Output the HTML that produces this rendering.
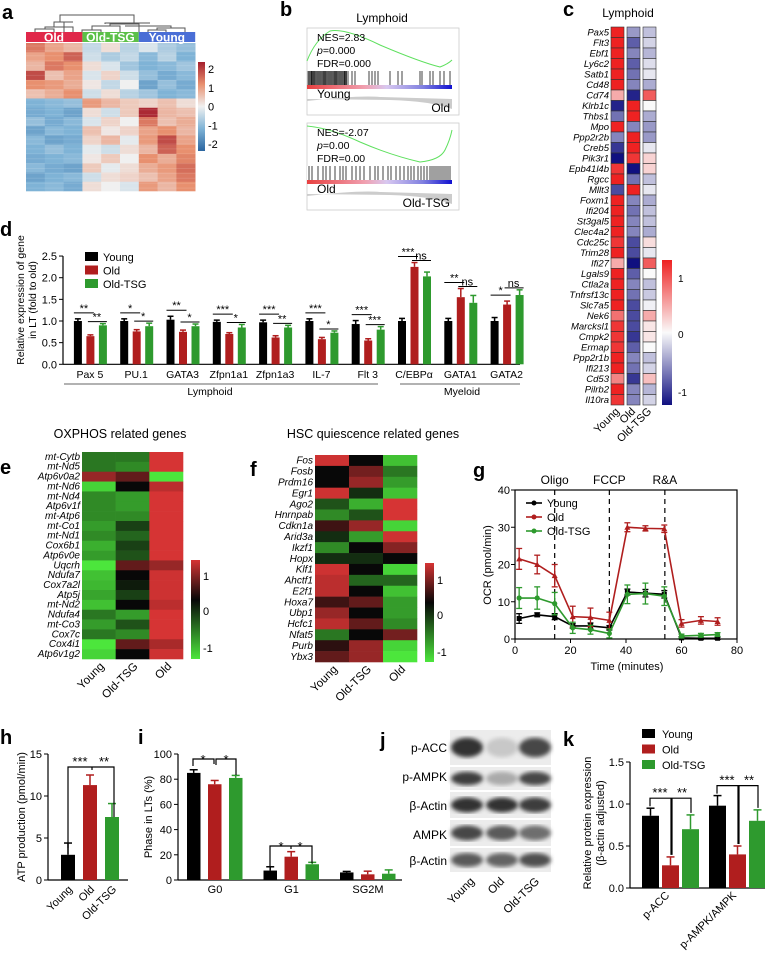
<!DOCTYPE html>
<html><head><meta charset="utf-8"><style>
html,body{margin:0;padding:0;background:#fff;}
svg{display:block;font-family:"Liberation Sans",sans-serif;}
</style></head><body>
<svg id="fig" width="765" height="958" viewBox="0 0 765 958"></svg>
<script>
// ---------- DATA ----------
const aRows = [
[1.2,0.8,0.6,-0.4,0.2,-0.5,-0.2,-0.6,-0.8],
[0.8,1.0,1.4,-0.3,-0.6,-0.4,-0.9,-0.5,-1.0],
[0.6,1.2,1.0,0.2,-0.2,-0.7,-1.0,-0.9,-0.7],
[1.6,0.5,0.8,-0.2,0.3,-0.3,-0.8,-1.1,-0.9],
[1.0,0.9,0.7,0.1,-0.4,0.0,-1.2,-0.8,-1.1],
[0.5,0.7,1.0,-0.3,0.2,-0.5,-0.7,-1.0,-0.9],
[-1.0,-0.9,-0.8,0.9,0.6,0.4,0.3,0.5,0.2],
[-1.1,-1.0,-1.2,0.2,-0.3,0.4,1.9,0.6,0.5],
[-0.8,-1.1,-0.9,-0.2,0.3,0.0,1.2,0.5,0.7],
[-1.2,-0.9,-1.0,0.5,0.1,0.3,0.8,1.0,0.6],
[-0.9,-1.2,-1.1,0.3,0.6,-0.1,0.9,1.6,0.8],
[-1.0,-0.8,-1.0,-0.1,-0.3,0.2,0.6,1.4,1.0],
[-1.1,-1.0,-0.9,0.1,0.4,0.0,1.0,0.7,1.1],
[-0.9,-1.1,-1.2,0.4,-0.1,0.2,0.7,0.9,1.3],
[-1.2,-1.0,-0.9,-0.3,0.2,0.3,0.5,0.8,1.2],
[-1.0,-0.9,-1.1,0.2,0.0,-0.2,0.9,0.6,1.0]];
const cGenes = ["Pax5","Flt3","Ebf1","Ly6c2","Satb1","Cd48","Cd74","Klrb1c","Thbs1","Mpo","Ppp2r2b","Creb5","Pik3r1","Epb41l4b","Rgcc","Mllt3","Foxm1","Ifi204","St3gal5","Clec4a2","Cdc25c","Trim28","Ifi27","Lgals9","Ctla2a","Tnfrsf13c","Slc7a5","Nek6","Marcksl1","Cmpk2","Ermap","Ppp2r1b","Ifi213","Cd53","Pilrb2","Il10ra"];
const cYoung = [1.1,1.2,1.2,1.2,1.1,1.2,0.4,-1.1,-0.7,1.2,-0.6,-1.0,-1.2,1.0,1.2,-0.9,1.2,1.2,1.2,1.2,1.0,1.1,0.4,1.1,1.2,1.2,1.1,0.7,1.0,1.0,1.0,1.1,1.2,0.6,1.2,1.0];
const cOld = [-0.5,-0.8,-0.6,-0.8,-0.7,-0.6,-1.1,1.1,1.2,-0.6,1.2,1.2,1.0,-1.2,-0.7,1.2,-0.6,-0.7,-0.6,-0.6,-0.9,-0.9,-1.2,-0.8,-0.6,-0.7,-0.9,-0.9,-0.9,-1.0,-0.8,-0.6,-0.7,-1.0,-0.6,-0.6];
const cTSG = [-0.3,-0.2,-0.35,-0.15,-0.1,-0.4,0.8,0,-0.4,-0.5,-0.5,-0.1,0.2,0.2,-0.3,-0.1,-0.4,-0.3,-0.3,-0.4,0.15,-0.1,0.8,0,-0.3,-0.25,-0.05,0.4,0.1,0.1,0,-0.3,-0.2,0.3,-0.35,-0.2];
const dGenes = ["Pax 5","PU.1","GATA3","Zfpn1a1","Zfpn1a3","IL-7","Flt 3","C/EBPα","GATA1","GATA2"];
const dYoung = [1.0,1.0,1.03,0.98,0.97,1.0,0.93,1.0,1.0,1.0];
const dYoungErr = [0.05,0.05,0.08,0.04,0.05,0.05,0.08,0.06,0.06,0.08];
const dOld = [0.65,0.76,0.75,0.7,0.62,0.58,0.55,2.25,1.55,1.38];
const dOldErr = [0.03,0.04,0.04,0.03,0.04,0.04,0.04,0.1,0.2,0.08];
const dTSG = [0.9,0.88,0.88,0.85,0.85,0.73,0.8,2.03,1.42,1.6];
const dTSGErr = [0.04,0.07,0.05,0.07,0.05,0.04,0.07,0.1,0.17,0.12];
const dSig1 = ["**","*","**","***","***","***","***","***","**","*"];
const dSig2 = ["**","*","*","*","**","*","***","ns","ns","ns"];
const dTicks = [0,0.5,1.0,1.5,2.0,2.5];
const eGenes = ["mt-Cytb","mt-Nd5","Atp6v0a2","mt-Nd6","mt-Nd4","Atp6v1f","mt-Atp6","mt-Co1","mt-Nd1","Cox6b1","Atp6v0e","Uqcrh","Ndufa7","Cox7a2l","Atp5j","mt-Nd2","Ndufa4","mt-Co3","Cox7c","Cox4i1","Atp6v1g2"];
const eYoung = [-0.6,-0.6,0.8,-1.1,-0.7,-0.7,-0.7,-0.8,-0.7,-0.9,-0.8,-1.2,-1.0,-0.95,-0.85,-1.0,-0.6,-0.8,-0.6,-1.2,-1.1];
const eTSG = [-0.6,-0.7,0.5,0,-0.8,-0.8,-0.7,-0.3,-0.5,-0.3,-0.4,0.5,0,-0.1,-0.3,0,-0.8,-0.4,-0.7,0.5,0];
const eOld = [1.2,1.2,-1.2,1.0,1.2,1.2,1.2,1.2,1.2,1.15,1.2,0.8,1.1,1.1,1.1,1.0,1.2,1.2,1.2,0.9,1.1];
const fGenes = ["Fos","Fosb","Prdm16","Egr1","Ago2","Hnrnpab","Cdkn1a","Arid3a","Ikzf1","Hopx","Klf1","Ahctf1","E2f1","Hoxa7","Ubp1","Hcfc1","Nfat5","Purb","Ybx3"];
const fYoung = [1.1,0,0,1.1,-0.4,-0.7,0.3,-0.2,-0.7,-0.2,1.1,1.0,1.0,0.3,0.8,1.0,-0.6,0.2,0.5];
const fTSG = [0,0.6,0.8,-0.2,-0.9,-0.4,0.8,-0.8,0,-0.2,0,-0.5,0,0.5,0,0.5,0,0.8,0.8];
const fOld = [-1.0,-0.6,-0.8,-1.0,1.2,1.2,-1.1,1.1,0.7,0,-1.1,-0.5,-1.0,-0.8,-0.8,-0.7,0.6,-1.1,-1.3];
const gTime = [1.5,8,14.3,20.8,27.2,34,40.5,47,53.8,60,67,73];
const gYoung = [5.5,6.5,6,3.5,3.5,3,12.6,12.3,12,0.3,0.2,0.2];
const gYoungErr = [1.3,0.5,0.8,0.6,0.8,0.6,0.8,1,1,0.3,0.3,0.3];
const gOld = [21.5,20,17,6,5.8,5,30,29.7,29.6,4.2,5,4.7];
const gOldErr = [2.8,2.5,3,2.8,2.5,2.2,1.2,0.7,1,1,1,1];
const gTSG = [11,11,9.5,3,2.5,1.5,12,12.2,11.5,0.8,1,1.2];
const gTSGErr = [2.8,3,3,1.5,1.2,1.2,2.5,2.8,2.5,0.5,0.5,0.5];
const gTicksX = [0,20,40,60,80];
const gTicksY = [0,10,20,30,40];
const hCats = ["Young","Old","Old-TSG"];
const hVals = [3.0,11.3,7.5];
const hErr = [1.4,1.2,1.6];
const hTicks = [0,5,10,15];
const iCats = ["G0","G1","SG2M"];
const iYoung = [85,7.5,6];
const iOld = [76,18.5,4.5];
const iTSG = [81,12.5,5];
const iYoungErr = [2.5,3,0.8];
const iOldErr = [3,4,2.5];
const iTSGErr = [2,1.5,3];
const iTicks = [0,20,40,60,80,100];
const jLabels = ["p-ACC","p-AMPK","β-Actin","AMPK","β-Actin"];
const jIntensity = [[0.9,0.15,0.8],[0.85,0.3,0.8],[0.9,0.9,0.85],[0.8,0.7,0.6],[0.7,0.65,0.75]];
const kCats = ["p-ACC","p-AMPK/AMPK"];
const kYoung = [0.86,0.98];
const kOld = [0.27,0.40];
const kTSG = [0.70,0.80];
const kYoungErr = [0.09,0.12];
const kOldErr = [0.1,0.1];
const kTSGErr = [0.17,0.13];
const kTicks = [0,0.5,1.0,1.5];

// ---------- HELPERS ----------
const NS="http://www.w3.org/2000/svg";
const svg=document.getElementById('fig');
function mk(tag,attrs,parent,text){const e=document.createElementNS(NS,tag);for(const k in attrs)e.setAttribute(k,attrs[k]);if(text!==undefined)e.textContent=text;(parent||svg).appendChild(e);return e;}
function grp(name){const g=mk('g',{});return g;}
function lerp(a,b,t){return a.map((v,i)=>Math.round(v+(b[i]-v)*t));}
function rgb(c){return 'rgb('+c.join(',')+')';}
function rdbu(v){const st=[[-2,[43,101,160]],[-1,[127,179,214]],[0,[240,240,240]],[1,[232,144,111]],[2,[165,30,45]]];v=Math.max(-2,Math.min(2,v));for(let i=0;i<4;i++){if(v<=st[i+1][0]){return rgb(lerp(st[i][1],st[i+1][1],(v-st[i][0])))}}return rgb(st[4][1]);}
function bwr(v){v=Math.max(-1.2,Math.min(1.2,v));if(v>=0)return rgb(lerp([250,250,250],[238,34,34],v/1.1>1?1:v/1.1));return rgb(lerp([250,250,250],[16,16,128],Math.min(1,-v/1.2)));}
function grn(v){v=Math.max(-1.3,Math.min(1.3,v));if(v>=0)return rgb(lerp([8,8,8],[214,52,52],Math.min(1,v/1.15)));return rgb(lerp([8,8,8],[76,230,60],Math.min(1,-v/1.2)));}
const RED='#b01e1e',GRN='#2e9a2e',BLK='#000';
function letter(x,y,t){const e=mk('text',{x:x,y:y,'font-size':20,'font-weight':'bold'},svg,t);}
function errbar(g,x,y1,y2,col,w){mk('line',{x1:x,y1:y1,x2:x,y2:y2,stroke:col,'stroke-width':1.5},g);mk('line',{x1:x-w,y1:y2,x2:x+w,y2:y2,stroke:col,'stroke-width':1.5},g);}

// ---------- PANEL A ----------
letter(2,19,'a');
{const g=grp('heatmap-a');
const x0=26,w=18.8,y0=43,rh=148/aRows.length;
aRows.forEach((row,r)=>row.forEach((v,c)=>{const e=mk('rect',{x:x0+c*w,y:y0+r*rh,width:w+0.3,height:rh+0.3,fill:rdbu(v)},g);}));
for(let i=0;i<30;i++){mk('line',{x1:x0,x2:x0+9*w,y1:y0+3+i*4.9,y2:y0+3+i*4.9,stroke:'#fff','stroke-opacity':0.12,'stroke-width':1},g);}
const lb=[["Old",'#e0284a'],["Old-TSG",'#5cc048'],["Young",'#4a6ed6']];
lb.forEach((l,i)=>{mk('rect',{x:x0+i*56.4,y:32,width:56.4,height:10,fill:l[1]},g);const t=mk('text',{x:x0+i*56.4+28,y:41.5,'font-size':12,fill:'#fff','text-anchor':'middle','font-weight':'bold'},g,l[0]);});
const dn=grp('dendrogram');
const p="M35 32V29H54V32 M45 29V27H64V32 M73 32V27H55 M54 27V22H73 M64 27V22 M82 32V30H101V32 M92 30V26H120V32 M110 26V24H139V32 M105 24V23H150 M128 23V24 M148 32V30H166V32 M157 30V28H185V32 M171 28V26H125 M60 22V15H134V23";
mk('path',{d:p,fill:'none',stroke:'#555','stroke-width':1},dn);
const cb=grp('colorbar-a');const gd=mk('linearGradient',{id:'ga',x1:0,y1:0,x2:0,y2:1},mk('defs',{},cb));
[[0,'#a51e2d'],[0.25,'#e8906f'],[0.5,'#f0f0f0'],[0.75,'#7fb3d6'],[1,'#2b65a0']].forEach(s=>mk('stop',{offset:s[0],'stop-color':s[1]},gd));
mk('rect',{x:198,y:62,width:7,height:89,fill:'url(#ga)'},cb);
["2","1","0","-1","-2"].forEach((t,i)=>mk('text',{x:208,y:73+i*18.8,'font-size':11},cb,t));
}

// ---------- PANEL B ----------
letter(280,16,'b');
{const g=grp('gsea-b');
mk('text',{x:382,y:22,'font-size':12,'text-anchor':'middle'},g,'Lymphoid');
function gsea(y0,h,nes,p,fdr,l1,l2,curve,bars){
  mk('rect',{x:307,y:y0,width:152,height:h,fill:'#fff',stroke:'#ccc','stroke-width':0.8},g);
  mk('path',{d:curve,fill:'none',stroke:'#5ee05e','stroke-width':1},g);
  const by=y0+43;
  mk('rect',{x:307,y:by,width:145,height:14,fill:'#fff'},g);
  bars.forEach(x=>mk('line',{x1:x,x2:x,y1:by,y2:by+14,stroke:'#111','stroke-width':0.8},g));
  const gd=mk('linearGradient',{id:'gb'+y0,x1:0,y1:0,x2:1,y2:0},mk('defs',{},g));
  [[0,'#e84040'],[0.4,'#f0a0b0'],[0.55,'#d8c8f0'],[0.8,'#8080e0'],[1,'#1010d0']].forEach(s=>mk('stop',{offset:s[0],'stop-color':s[1]},gd));
  mk('rect',{x:307,y:by+14,width:145,height:4,fill:'url(#gb'+y0+')'},g);
  mk('path',{d:`M307 ${by+18} L307 ${by+30} Q360 ${by+24} 380 ${by+26} L452 ${by+28} L452 ${by+38} Q430 ${by+30} 390 ${by+29} L307 ${by+28}Z`,fill:'#ccc'},g);
  mk('text',{x:317,y:y0+13,'font-size':10.5},g,nes);
  const pt=mk('text',{x:317,y:y0+26,'font-size':10.5},g);mk('tspan',{'font-style':'italic'},pt,'p');mk('tspan',{},pt,p);
  mk('text',{x:317,y:y0+39,'font-size':10.5},g,fdr);
  mk('text',{x:317,y:by+27,'font-size':12},g,l1);
  mk('text',{x:450,y:by+41,'font-size':12,'text-anchor':'end'},g,l2);
}
const b1=[];for(let i=0;i<36;i++)b1.push(308+i*1.1);[312,345,348,352,355,369,372,375,378,390,398,402,420,422,430,433,440,444,450].forEach(v=>b1.push(v));
gsea(28,87,'NES=2.83','=0.000','FDR=0.000','Young','Old','M307 61 Q315 40 330 31 Q345 28 380 45 Q420 62 440 67 Q448 64 452 60',b1);
const b2=[];[309,312,318,323,326,330,335,340,343,346,352,356,360,364,370,375,378,383,388,391,396,400,404,408,411,414,418,421,424,427,430,432,434,436,438,440,442,444,446,448,450].forEach(v=>b2.push(v));
gsea(123,87,'NES=-2.07','=0.00','FDR=0.00','Old','Old-TSG','M307 126 Q330 128 360 142 Q390 155 420 162 Q440 160 445 150 Q450 140 452 130',b2);
}

// ---------- PANEL C ----------
mk('text',{x:563,y:16,'font-size':20,'font-weight':'bold'},svg,'c');
{const g=grp('heatmap-c');
mk('text',{x:628,y:17,'font-size':12,'text-anchor':'middle'},g,'Lymphoid');
const rh=(405-27)/cGenes.length, cols=[611,627,643];
[cYoung,cOld,cTSG].forEach((arr,c)=>arr.forEach((v,r)=>{const e=mk('rect',{x:cols[c],y:27+r*rh,width:13,height:rh,fill:bwr(v),stroke:'#333','stroke-width':0.6},g);}));
cGenes.forEach((n,r)=>mk('text',{x:609,y:27+r*rh+8.5,'font-size':9.5,'font-style':'italic','text-anchor':'end'},g,n));
["Young","Old","Old-TSG"].forEach((t,i)=>mk('text',{x:cols[i]+9,y:412,'font-size':11,'text-anchor':'end',transform:`rotate(-45 ${cols[i]+9} 412)`},g,t));
const gd=mk('linearGradient',{id:'gc',x1:0,y1:0,x2:0,y2:1},mk('defs',{},g));
[[0,'#ee2222'],[0.5,'#fafafa'],[1,'#101080']].forEach(s=>mk('stop',{offset:s[0],'stop-color':s[1]},gd));
mk('rect',{x:662,y:260,width:10,height:145,fill:'url(#gc)'},g);
[["1",282],["0",338],["-1",396]].forEach(t=>mk('text',{x:678,y:t[1],'font-size':10},g,t[0]));
}

// ---------- PANEL D ----------
letter(0,236,'d');
{const g=grp('bar-chart-d');
const y0=364.3,sc=43.3,ax=63;
const Y=v=>y0-v*sc;
mk('line',{x1:ax,y1:Y(0),x2:ax,y2:Y(2.5),stroke:'#000','stroke-width':1.2},g);
mk('line',{x1:ax,y1:Y(0),x2:520,y2:Y(0),stroke:'#000','stroke-width':1.2},g);
dTicks.forEach(t=>{mk('line',{x1:ax-4,x2:ax,y1:Y(t),y2:Y(t),stroke:'#000'},g);mk('text',{x:ax-6,y:Y(t)+4,'font-size':11,'text-anchor':'end'},g,t.toFixed(1));});
mk('text',{x:0,y:0,'font-size':10.5,'text-anchor':'middle',transform:'translate(24 300) rotate(-90)'},g,'Relative expression of gene');
mk('text',{x:0,y:0,'font-size':10.5,'text-anchor':'middle',transform:'translate(36 300) rotate(-90)'},g,'in LT (fold to old)');
const sp=46.3;
dGenes.forEach((n,i)=>{
 const x=398-(7-i)*sp;
 [[dYoung,dYoungErr,BLK,0],[dOld,dOldErr,RED,12.5],[dTSG,dTSGErr,GRN,25]].forEach(s=>{
  const v=s[0][i];const b=mk('rect',{x:x+s[3],y:Y(v),width:8,height:v*sc,fill:s[2]},g);
  
  errbar(g,x+s[3]+4,Y(v),Y(v+s[1][i]),s[2],3);});
 const top1=Y(Math.max(dYoung[i]+dYoungErr[i],dOld[i]+dOldErr[i]))-6;
 const top2=Y(Math.max(dOld[i]+dOldErr[i],dTSG[i]+dTSGErr[i]))-6;
 mk('line',{x1:x,x2:x+20,y1:top1,y2:top1,stroke:'#000'},g);
 mk('text',{x:x+10,y:top1-1,'font-size':11,'text-anchor':'middle'},g,dSig1[i]);
 mk('line',{x1:x+14,x2:x+33,y1:top2+4,y2:top2+4,stroke:'#000'},g);
 mk('text',{x:x+23,y:top2+3,'font-size':11,'text-anchor':'middle'},g,dSig2[i]);
 mk('text',{x:x+16,y:378,'font-size':10.5,'text-anchor':'middle'},g,n);
});
mk('line',{x1:64,x2:378,y1:384,y2:384,stroke:'#666'},g);
mk('text',{x:210,y:395,'font-size':10.5,'text-anchor':'middle'},g,'Lymphoid');
mk('line',{x1:400,x2:520,y1:384,y2:384,stroke:'#666'},g);
mk('text',{x:462,y:395,'font-size':10.5,'text-anchor':'middle'},g,'Myeloid');
const lg=grp('legend-d');
[["Young",BLK],["Old",RED],["Old-TSG",GRN]].forEach((l,i)=>{mk('rect',{x:85,y:252+i*13.5,width:13,height:9,fill:l[1]},lg);mk('text',{x:103,y:261+i*13.5,'font-size':11},lg,l[0]);});
}

// ---------- PANEL E / F ----------
function gheat(name,genes,cols,x0,x1,y0,y1,title,tx,cb){
 const g=grp(name);mk('text',{x:tx,y:438,'font-size':12.5,'text-anchor':'middle'},g,title);
 const rh=(y1-y0)/genes.length,cw=(x1-x0)/3;
 cols.forEach((arr,c)=>arr.forEach((v,r)=>{const e=mk('rect',{x:x0+c*cw,y:y0+r*rh,width:cw+0.3,height:rh+0.3,fill:grn(v)},g);}));
 genes.forEach((n,r)=>mk('text',{x:x0-2,y:y0+r*rh+rh*0.8,'font-size':10,'font-style':'italic','text-anchor':'end'},g,n));
 ["Young","Old-TSG","Old"].forEach((t,i)=>{const cx=x0+i*cw+cw/2+6;mk('text',{x:cx,y:y1+8,'font-size':11.5,'text-anchor':'end',transform:`rotate(-45 ${cx} ${y1+8})`},g,t);});
 const gd=mk('linearGradient',{id:'g'+name,x1:0,y1:0,x2:0,y2:1},mk('defs',{},g));
 [[0,'#d63434'],[0.4,'#080808'],[1,'#4ce63c']].forEach(s=>mk('stop',{offset:s[0],'stop-color':s[1]},gd));
 mk('rect',{x:cb[0],y:cb[1],width:9,height:cb[2]-cb[1],fill:'url(#g'+name+')'},g);
 [["1",cb[3]],["0",cb[4]],["-1",cb[5]]].forEach(t=>mk('text',{x:cb[0]+12,y:t[1]+4,'font-size':11},g,t[0]));
}
letter(0,474,'e');
gheat('heatmap-e',eGenes,[eYoung,eTSG,eOld],82,183,452,659,'OXPHOS related genes',120,[191,560,659,576,611,648]);
letter(250,476,'f');
gheat('heatmap-f',fGenes,[fYoung,fTSG,fOld],315,417,455,662,'HSC quiescence related genes',373,[425,563,662,580,615,652]);

// ---------- PANEL G ----------
letter(473,477,'g');
{const g=grp('line-chart-g');
const X=t=>515+t*(222/80),Y=v=>639-v*(149/40);
mk('rect',{x:515,y:Y(40),width:222,height:149,fill:'none',stroke:'#000','stroke-width':1.2},g);
gTicksX.forEach(t=>{mk('line',{x1:X(t),x2:X(t),y1:639,y2:643,stroke:'#000'},g);mk('text',{x:X(t),y:654,'font-size':11,'text-anchor':'middle'},g,t);});
gTicksY.forEach(t=>{mk('line',{x1:511,x2:515,y1:Y(t),y2:Y(t),stroke:'#000'},g);mk('text',{x:510,y:Y(t)+4,'font-size':11,'text-anchor':'end'},g,t);});
mk('text',{x:627,y:670,'font-size':11,'text-anchor':'middle'},g,'Time (minutes)');
mk('text',{x:0,y:0,'font-size':11,'text-anchor':'middle',transform:'translate(491 565) rotate(-90)'},g,'OCR (pmol/min)');
[[14.3,'Oligo'],[34,'FCCP'],[54,'R&A']].forEach(d=>{mk('line',{x1:X(d[0]),x2:X(d[0]),y1:Y(40),y2:639,stroke:'#000','stroke-dasharray':'5,4','stroke-width':1.2},g);mk('text',{x:X(d[0]),y:484,'font-size':12,'text-anchor':'middle'},g,d[1]);});
[[gYoung,gYoungErr,'#000','sq'],[gOld,gOldErr,RED,'tri'],[gTSG,gTSGErr,GRN,'c']].forEach(s=>{
 const pts=gTime.map((t,i)=>X(t)+','+Y(s[0][i])).join(' ');
 const pl=mk('polyline',{points:pts,fill:'none',stroke:s[2],'stroke-width':1.6},g);
 
 gTime.forEach((t,i)=>{const x=X(t),y=Y(s[0][i]),e=s[1][i]*(149/40);
  mk('line',{x1:x,x2:x,y1:y-e,y2:y+e,stroke:s[2],'stroke-width':1.3},g);
  mk('line',{x1:x-3,x2:x+3,y1:y-e,y2:y-e,stroke:s[2],'stroke-width':1.3},g);mk('line',{x1:x-3,x2:x+3,y1:y+e,y2:y+e,stroke:s[2],'stroke-width':1.3},g);
  if(s[3]=='sq')mk('rect',{x:x-2.5,y:y-2.5,width:5,height:5,fill:s[2]},g);
  else if(s[3]=='tri')mk('path',{d:`M${x} ${y-3}L${x+3} ${y+2.5}L${x-3} ${y+2.5}Z`,fill:s[2]},g);
  else mk('circle',{cx:x,cy:y,r:2.6,fill:s[2]},g);});
});
const lg=grp('legend-g');
[["Young",'#000'],["Old",RED],["Old-TSG",GRN]].forEach((l,i)=>{const y=503+i*14;mk('line',{x1:526,x2:542,y1:y,y2:y,stroke:l[1],'stroke-width':1.6},lg);mk('circle',{cx:534,cy:y,r:2.5,fill:l[1]},lg);mk('text',{x:547,y:y+4,'font-size':11},lg,l[0]);});
}

// ---------- PANEL H ----------
letter(0,744,'h');
{const g=grp('bar-chart-h');
const Y=v=>880-v*(126/15);
mk('line',{x1:48,x2:48,y1:Y(0),y2:Y(15),stroke:'#000','stroke-width':1.2},g);
mk('line',{x1:48,x2:128,y1:880,y2:880,stroke:'#000','stroke-width':1.2},g);
hTicks.forEach(t=>{mk('line',{x1:44,x2:48,y1:Y(t),y2:Y(t),stroke:'#000'},g);mk('text',{x:42,y:Y(t)+4,'font-size':11,'text-anchor':'end'},g,t);});
mk('text',{x:0,y:0,'font-size':11,'text-anchor':'middle',transform:'translate(25 817) rotate(-90)'},g,'ATP production (pmol/min)');
const cols=[BLK,RED,GRN];
hCats.forEach((c,i)=>{const x=61+i*22;const b=mk('rect',{x:x,y:Y(hVals[i]),width:14,height:880-Y(hVals[i]),fill:cols[i]},g);
 errbar(g,x+7,Y(hVals[i]),Y(hVals[i]+hErr[i]),cols[i],4);
 mk('text',{x:x+12,y:890,'font-size':11,'text-anchor':'end',transform:`rotate(-45 ${x+12} 890)`},g,c);});
mk('path',{d:'M68 848V767H92V770 M92 767H114V817',fill:'none',stroke:'#000','stroke-width':1.2},g);
mk('text',{x:80,y:766,'font-size':13,'text-anchor':'middle'},g,'***');
mk('text',{x:104,y:766,'font-size':13,'text-anchor':'middle'},g,'**');
}

// ---------- PANEL I ----------
letter(138,744,'i');
{const g=grp('bar-chart-i');
const Y=v=>880-v*1.26;
mk('line',{x1:178,x2:178,y1:880,y2:Y(100),stroke:'#000','stroke-width':1.2},g);
mk('line',{x1:178,x2:402,y1:880,y2:880,stroke:'#000','stroke-width':1.2},g);
iTicks.forEach(t=>{mk('line',{x1:174,x2:178,y1:Y(t),y2:Y(t),stroke:'#000'},g);mk('text',{x:172,y:Y(t)+4,'font-size':11,'text-anchor':'end'},g,t);});
mk('text',{x:0,y:0,'font-size':11,'text-anchor':'middle',transform:'translate(152 817) rotate(-90)'},g,'Phase in LTs (%)');
iCats.forEach((c,i)=>{const x=187+i*76.5;
 [[iYoung,iYoungErr,BLK],[iOld,iOldErr,RED],[iTSG,iTSGErr,GRN]].forEach((s,k)=>{const v=s[0][i];const b=mk('rect',{x:x+k*21,y:Y(v),width:13.5,height:880-Y(v),fill:s[2]},g);errbar(g,x+k*21+6.7,Y(v),Y(v+s[1][i]),s[2],4);});
 mk('text',{x:x+28,y:893,'font-size':11,'text-anchor':'middle'},g,c);});
mk('path',{d:'M193 766V759H214V764 M216 765V759H236V775',fill:'none',stroke:'#000','stroke-width':1.2},g);
mk('text',{x:203,y:764,'font-size':13,'text-anchor':'middle'},g,'*');mk('text',{x:226,y:764,'font-size':13,'text-anchor':'middle'},g,'*');
mk('path',{d:'M270 866V846H291V849 M291 846H312V863',fill:'none',stroke:'#000','stroke-width':1.2},g);
mk('text',{x:281,y:851,'font-size':13,'text-anchor':'middle'},g,'*');mk('text',{x:300,y:851,'font-size':13,'text-anchor':'middle'},g,'*');
}

// ---------- PANEL J ----------
letter(380,747,'j');
{const g=grp('western-blot-j');
const rows=[[730,765],[767,790],[792,818],[820,846],[848,872]];
const ly=[748,777,806,835,861];
const defs=mk('defs',{},g);const f=mk('filter',{id:'blur'},defs);mk('feGaussianBlur',{stdDeviation:2.2},f);
rows.forEach((r,i)=>{mk('rect',{x:450,y:r[0],width:101,height:r[1]-r[0],fill:'#ececec'},g);
 [467,502,535].forEach((cx,k)=>{const it=jIntensity[i][k];const h=(r[1]-r[0])*0.5;const c=Math.round(230-200*it);
  const bd=mk('ellipse',{cx:cx,cy:(r[0]+r[1])/2,rx:16,ry:h/2+1,fill:`rgb(${c},${c},${c})`,filter:'url(#blur)'},g);
  });
 mk('text',{x:447,y:ly[i]+4,'font-size':12,'text-anchor':'end'},g,jLabels[i]);});
["Young","Old","Old-TSG"].forEach((t,i)=>{const x=[475,505,540][i];mk('text',{x:x,y:882,'font-size':11.5,'text-anchor':'end',transform:`rotate(-45 ${x} 882)`},g,t);});
}

// ---------- PANEL K ----------
letter(563,746,'k');
{const g=grp('bar-chart-k');
const Y=v=>888-v*84;
mk('line',{x1:630,x2:630,y1:888,y2:Y(1.5),stroke:'#000','stroke-width':1.2},g);
mk('line',{x1:630,x2:770,y1:888,y2:888,stroke:'#000','stroke-width':1.2},g);
kTicks.forEach(t=>{mk('line',{x1:626,x2:630,y1:Y(t),y2:Y(t),stroke:'#000'},g);mk('text',{x:624,y:Y(t)+4,'font-size':11,'text-anchor':'end'},g,t.toFixed(1));});
mk('text',{x:0,y:0,'font-size':11,'text-anchor':'middle',transform:'translate(591 823) rotate(-90)'},g,'Relative protein expression');
mk('text',{x:0,y:0,'font-size':11,'text-anchor':'middle',transform:'translate(604 823) rotate(-90)'},g,'(β-actin adjusted)');
kCats.forEach((c,i)=>{const x=642+i*67;
 [[kYoung,kYoungErr,BLK],[kOld,kOldErr,RED],[kTSG,kTSGErr,GRN]].forEach((s,k)=>{const v=s[0][i];const b=mk('rect',{x:x+k*20,y:Y(v),width:17,height:888-Y(v),fill:s[2]},g);errbar(g,x+k*20+8.5,Y(v),Y(v+s[1][i]),s[2],4);});
 const lx=x+28;mk('text',{x:lx,y:896,'font-size':11,'text-anchor':'end',transform:`rotate(-45 ${lx} 896)`},g,c);
 const tY=Y(Math.max(kYoung[i]+kYoungErr[i],kTSG[i]+kTSGErr[i]))-10;
 mk('path',{d:`M${x+8} ${Y(kYoung[i]+kYoungErr[i])-2}V${tY}H${x+29}V${Y(kOld[i]+kOldErr[i])-2} M${x+30} ${Y(kOld[i]+kOldErr[i])-2}V${tY}H${x+49}V${Y(kTSG[i]+kTSGErr[i])-2}`,fill:'none',stroke:'#000','stroke-width':1.2},g);
 mk('text',{x:x+18,y:tY-1,'font-size':13,'text-anchor':'middle'},g,'***');mk('text',{x:x+40,y:tY-1,'font-size':13,'text-anchor':'middle'},g,'**');});
const lg=grp('legend-k');
[["Young",BLK],["Old",RED],["Old-TSG",GRN]].forEach((l,i)=>{mk('rect',{x:642,y:729+i*15.5,width:13,height:9,fill:l[1]},lg);mk('text',{x:662,y:738+i*15.5,'font-size':11},lg,l[0]);});
}
</script>
</body></html>
